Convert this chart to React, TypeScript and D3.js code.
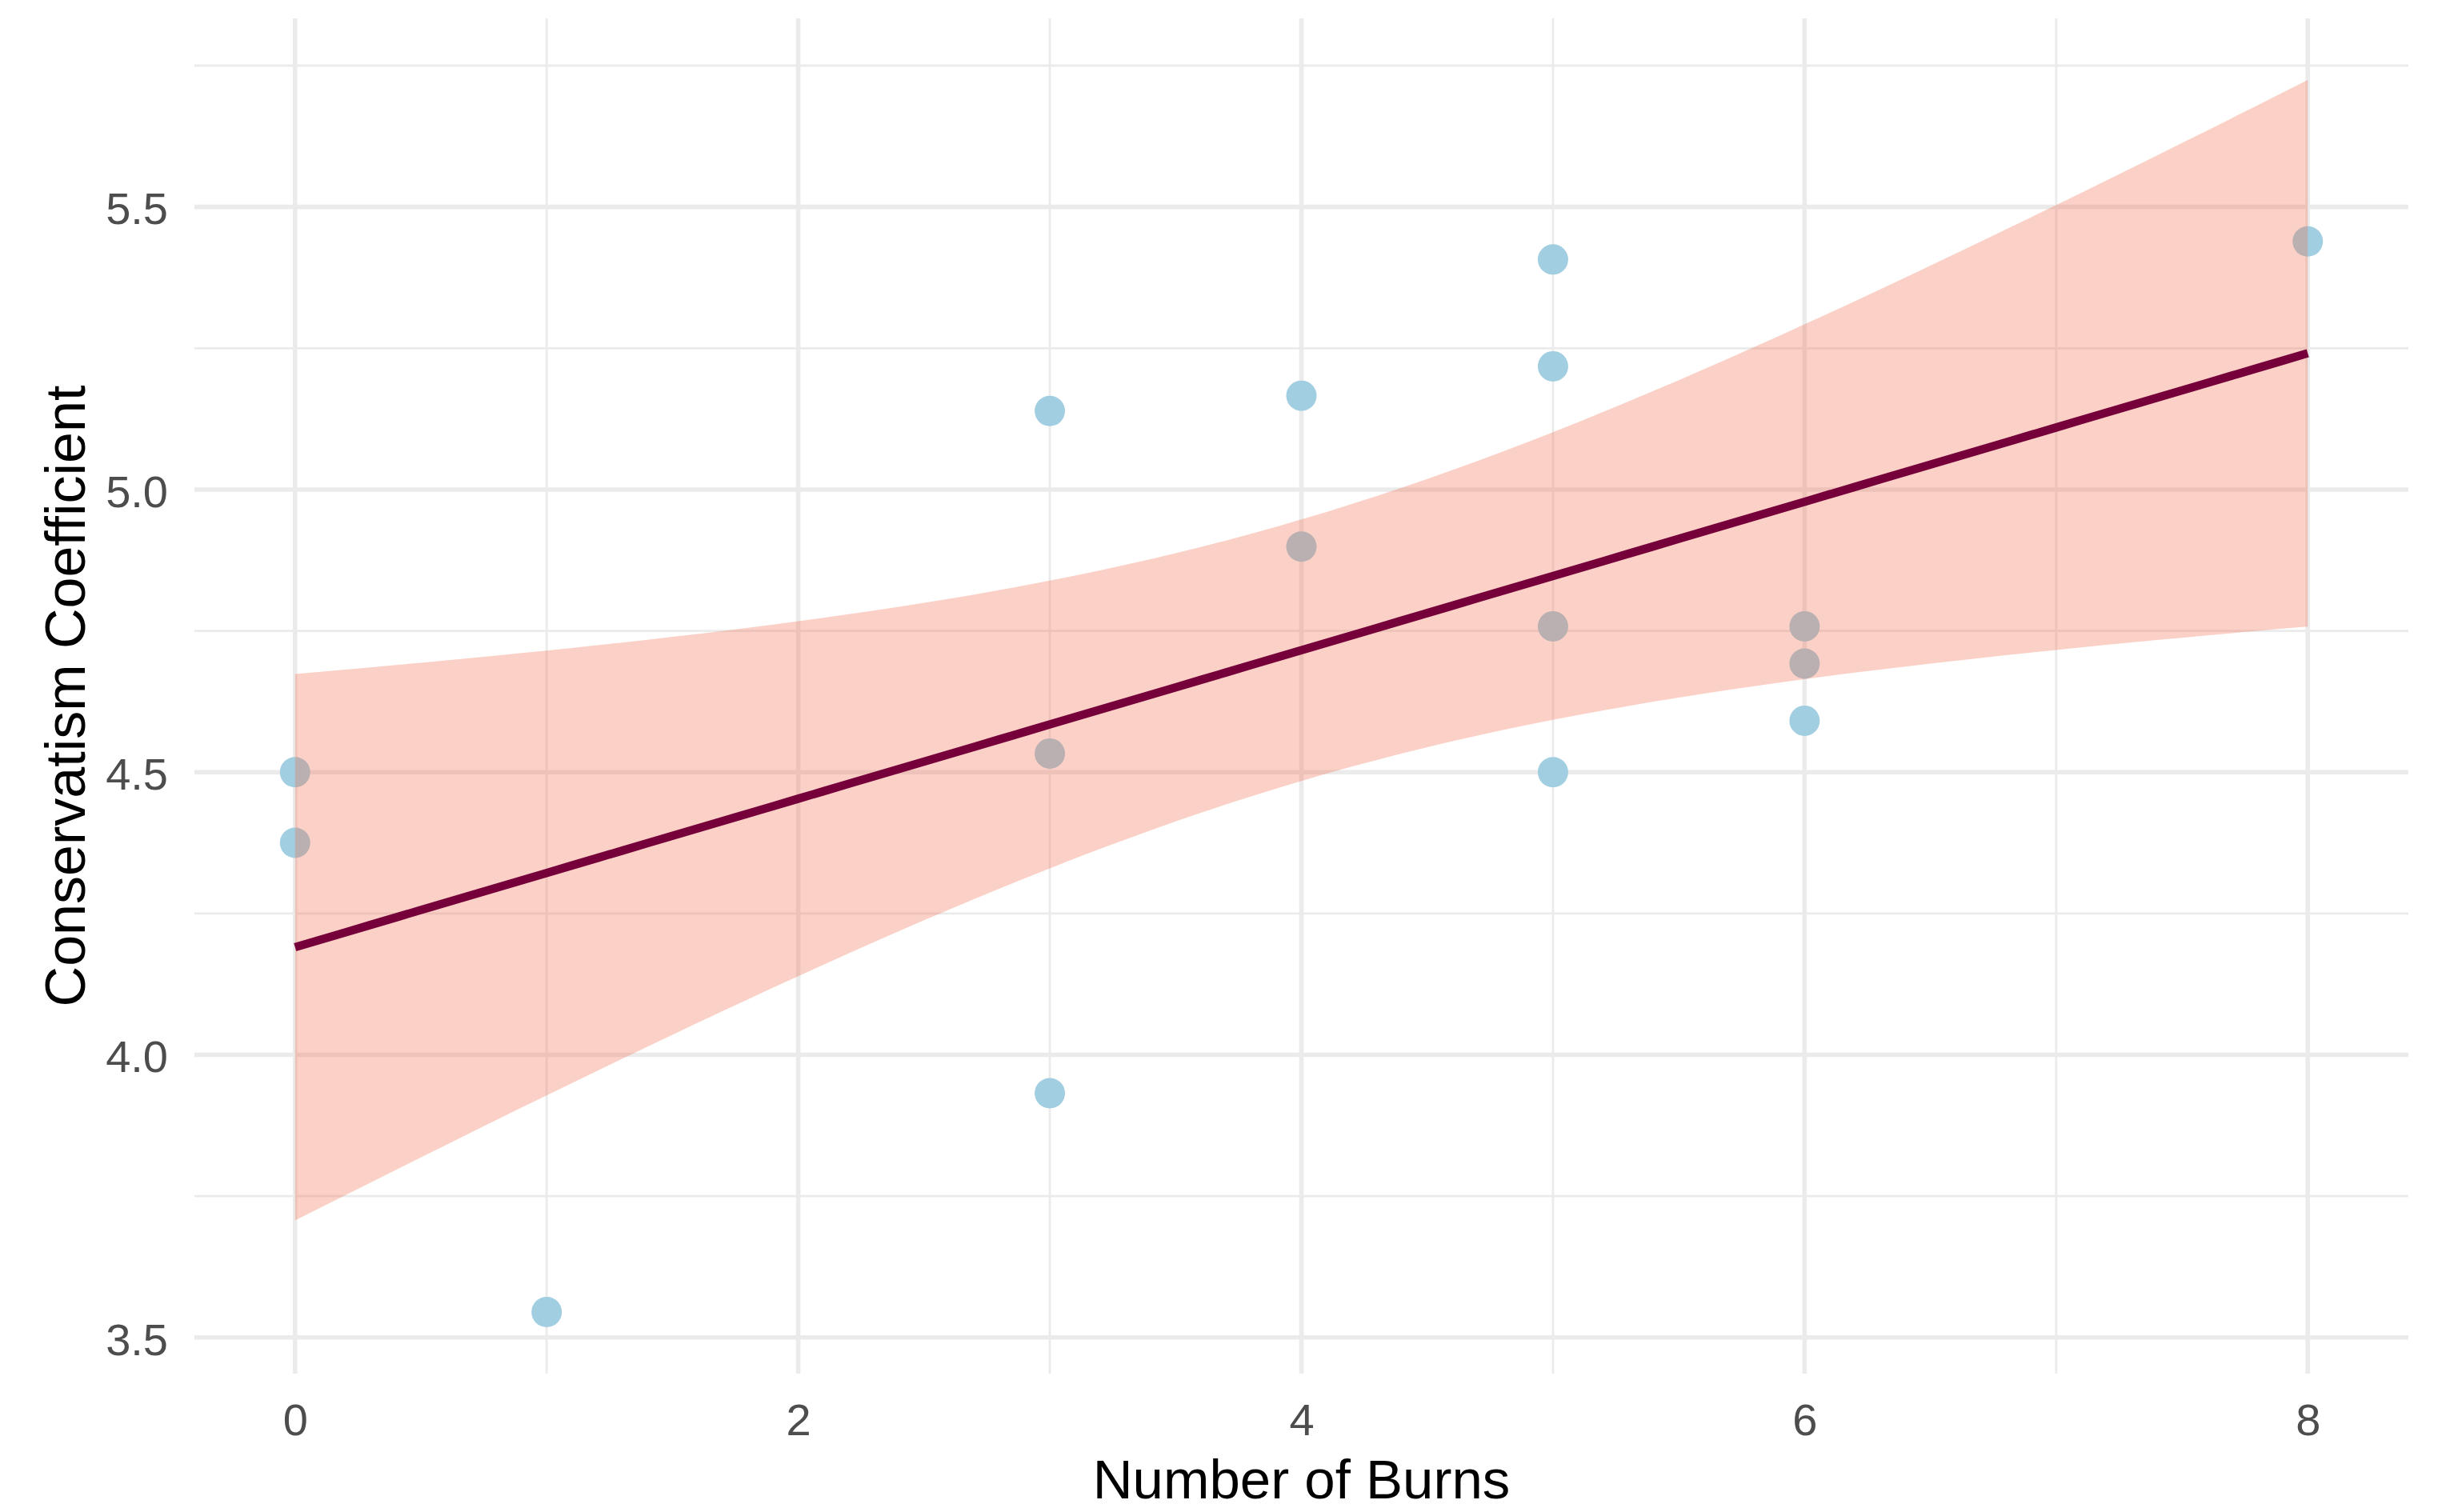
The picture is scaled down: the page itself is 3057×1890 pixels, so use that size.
import React, { useEffect, useRef } from 'react';
import * as d3 from 'd3';

// observations: number of burns vs conservatism coefficient
const burns = [0, 0, 1, 3, 3, 3, 4, 4, 5, 5, 5, 5, 6, 6, 6, 8];
const coefficient = [
  4.5, 4.375, 3.545, 5.139, 4.533, 3.932, 5.166, 4.899,
  5.407, 5.218, 4.758, 4.5, 4.758, 4.692, 4.591, 5.439,
];

const xTicks = [0, 2, 4, 6, 8];
const xMinor = [1, 3, 5, 7];
const yTicks = [3.5, 4.0, 4.5, 5.0, 5.5];
const yMinor = [3.75, 4.25, 4.75, 5.25, 5.75];

// t quantile (0.975, df = 14) for the 95% band
const T_CRIT = 2.1448;

const WIDTH = 3057;
const HEIGHT = 1890;

function App() {
  const ref = useRef<SVGSVGElement>(null);

  useEffect(() => {
    document.body.style.margin = '0';
    const svg = d3.select(ref.current);
    svg.selectAll('*').remove();

    const data = burns.map((b, i) => ({ x: b, y: coefficient[i] }));
    const n = data.length;

    // least squares fit + confidence band (same as geom_smooth(method = 'lm'))
    const mx = d3.mean(data, d => d.x) as number;
    const my = d3.mean(data, d => d.y) as number;
    const sxx = d3.sum(data, d => (d.x - mx) ** 2);
    const sxy = d3.sum(data, d => (d.x - mx) * (d.y - my));
    const slope = sxy / sxx;
    const intercept = my - slope * mx;
    const sse = d3.sum(data, d => (d.y - (intercept + slope * d.x)) ** 2);
    const s = Math.sqrt(sse / (n - 2));

    const [x0, x1] = d3.extent(data, d => d.x) as [number, number];
    const fit = d3.range(81).map(i => {
      const xv = x0 + ((x1 - x0) * i) / 80;
      const yhat = intercept + slope * xv;
      const se = s * Math.sqrt(1 / n + (xv - mx) ** 2 / sxx);
      return { x: xv, y: yhat, lo: yhat - T_CRIT * se, hi: yhat + T_CRIT * se };
    });

    const margin = { top: 23, right: 47, bottom: 173, left: 243 };
    const innerW = WIDTH - margin.left - margin.right;
    const innerH = HEIGHT - margin.top - margin.bottom;

    const xPad = (x1 - x0) * 0.05;
    const x = d3
      .scaleLinear()
      .domain([x0 - xPad, x1 + xPad])
      .range([margin.left, margin.left + innerW]);

    const yLo = Math.min(d3.min(data, d => d.y) as number, d3.min(fit, d => d.lo) as number);
    const yHi = Math.max(d3.max(data, d => d.y) as number, d3.max(fit, d => d.hi) as number);
    const yPad = (yHi - yLo) * 0.05;
    const y = d3
      .scaleLinear()
      .domain([yLo - yPad, yHi + yPad])
      .range([margin.top + innerH, margin.top]);

    const grid = svg.append('g').attr('stroke', '#ebebeb');

    // minor grid
    grid
      .selectAll('line.ym')
      .data(yMinor)
      .join('line')
      .attr('class', 'ym')
      .attr('x1', margin.left)
      .attr('x2', margin.left + innerW)
      .attr('y1', d => y(d))
      .attr('y2', d => y(d))
      .attr('stroke-width', 2.8);
    grid
      .selectAll('line.xm')
      .data(xMinor)
      .join('line')
      .attr('class', 'xm')
      .attr('y1', margin.top)
      .attr('y2', margin.top + innerH)
      .attr('x1', d => x(d))
      .attr('x2', d => x(d))
      .attr('stroke-width', 2.8);

    // major grid
    grid
      .selectAll('line.yM')
      .data(yTicks)
      .join('line')
      .attr('class', 'yM')
      .attr('x1', margin.left)
      .attr('x2', margin.left + innerW)
      .attr('y1', d => y(d))
      .attr('y2', d => y(d))
      .attr('stroke-width', 5.6);
    grid
      .selectAll('line.xM')
      .data(xTicks)
      .join('line')
      .attr('class', 'xM')
      .attr('y1', margin.top)
      .attr('y2', margin.top + innerH)
      .attr('x1', d => x(d))
      .attr('x2', d => x(d))
      .attr('stroke-width', 5.6);

    // points
    svg
      .append('g')
      .selectAll('circle')
      .data(data)
      .join('circle')
      .attr('cx', d => x(d.x))
      .attr('cy', d => y(d.y))
      .attr('r', 19)
      .attr('fill', '#a1cee0');

    // confidence ribbon drawn over the points
    const area = d3
      .area<{ x: number; lo: number; hi: number }>()
      .x(d => x(d.x))
      .y0(d => y(d.lo))
      .y1(d => y(d.hi));
    svg
      .append('path')
      .datum(fit)
      .attr('d', area)
      .attr('fill', '#f26b4a')
      .attr('fill-opacity', 0.31);

    const line = d3
      .line<{ x: number; y: number }>()
      .x(d => x(d.x))
      .y(d => y(d.y));
    svg
      .append('path')
      .datum(fit)
      .attr('d', line)
      .attr('fill', 'none')
      .attr('stroke', '#75003a')
      .attr('stroke-width', 10.5);

    const font = '"Liberation Sans", Arial, Helvetica, sans-serif';

    // axes (text only, like theme_minimal)
    const xAxis = d3
      .axisBottom(x)
      .tickValues(xTicks)
      .tickSize(0)
      .tickPadding(37)
      .tickFormat(d3.format('d'));
    const xg = svg
      .append('g')
      .attr('transform', `translate(0, ${margin.top + innerH})`)
      .call(xAxis);
    xg.select('.domain').remove();
    xg.selectAll('text')
      .attr('font-size', 56)
      .attr('font-family', font)
      .attr('fill', '#4d4d4d');

    const yAxis = d3
      .axisLeft(y)
      .tickValues(yTicks)
      .tickSize(0)
      .tickPadding(33)
      .tickFormat(d3.format('.1f'));
    const yg = svg
      .append('g')
      .attr('transform', `translate(${margin.left}, 0)`)
      .call(yAxis);
    yg.select('.domain').remove();
    yg.selectAll('text')
      .attr('font-size', 56)
      .attr('font-family', font)
      .attr('fill', '#4d4d4d')
      .attr('dy', '0.38em');

    // axis titles
    svg
      .append('text')
      .attr('x', margin.left + innerW / 2)
      .attr('y', 1873)
      .attr('text-anchor', 'middle')
      .attr('font-size', 69)
      .attr('font-family', font)
      .attr('fill', '#000')
      .text('Number of Burns');

    svg
      .append('text')
      .attr('transform', `translate(106, ${margin.top + innerH / 2}) rotate(-90)`)
      .attr('text-anchor', 'middle')
      .attr('font-size', 70)
      .attr('font-family', font)
      .attr('fill', '#000')
      .text('Conservatism Coefficient');
  }, []);

  return (
    <svg
      ref={ref}
      width={WIDTH}
      height={HEIGHT}
      style={{ display: 'block', background: '#fff' }}
    />
  );
}

export default App;
